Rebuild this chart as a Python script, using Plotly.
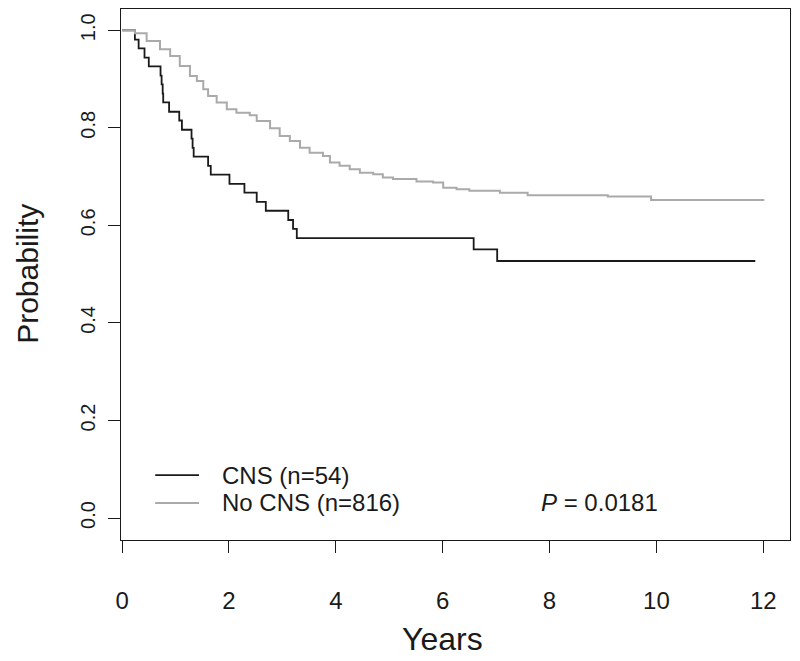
import plotly.graph_objects as go

# Kaplan-Meier estimates (years, survival probability)
cns_time = [0, 0.24, 0.31, 0.42, 0.50, 0.72, 0.74, 0.76, 0.77, 0.88, 1.07, 1.12,
            1.30, 1.32, 1.34, 1.61, 1.66, 2.01, 2.29, 2.52, 2.69, 3.11, 3.20, 3.27,
            6.58, 7.02, 11.85]
cns_surv = [1.0, 0.981, 0.963, 0.944, 0.926, 0.907, 0.889, 0.870, 0.852, 0.833, 0.815, 0.796,
            0.778, 0.759, 0.741, 0.722, 0.704, 0.685, 0.667, 0.648, 0.630, 0.611, 0.593, 0.574,
            0.551, 0.527, 0.527]

nocns_time = [0, 0.24, 0.46, 0.71, 0.90, 1.08, 1.27, 1.40, 1.52, 1.61, 1.77, 1.96, 2.14,
              2.39, 2.52, 2.77, 2.95, 3.14, 3.33, 3.51, 3.76, 3.89, 4.07, 4.26, 4.45,
              4.70, 4.88, 5.07, 5.51, 5.82, 6.01, 6.26, 6.50, 7.07, 7.59, 9.09, 9.90, 12.02]
nocns_surv = [1.0, 0.994, 0.978, 0.961, 0.947, 0.927, 0.906, 0.896, 0.879, 0.865, 0.852, 0.838, 0.831,
              0.826, 0.814, 0.799, 0.783, 0.773, 0.759, 0.749, 0.742, 0.729, 0.722, 0.715, 0.708,
              0.705, 0.698, 0.695, 0.690, 0.688, 0.677, 0.674, 0.671, 0.667, 0.662, 0.659, 0.652, 0.652]

series_names = ["CNS (n=54)", "No CNS (n=816)"]
series_colors = ["#1a1a1a", "#aaaaaa"]
x_ticks = [0, 2, 4, 6, 8, 10, 12]
y_ticks = [0.0, 0.2, 0.4, 0.6, 0.8, 1.0]
p_text = "<i>P</i> = 0.0181"

FONT = "Liberation Sans, Arial, sans-serif"
TXT = "#1a1a1a"

fig = go.Figure()
for t, s, name, col, w in [(cns_time, cns_surv, series_names[0], series_colors[0], 1.8),
                           (nocns_time, nocns_surv, series_names[1], series_colors[1], 2)]:
    fig.add_trace(go.Scatter(x=t, y=s, mode="lines", name=name,
                             line=dict(color=col, width=w, shape="hv")))

axis_common = dict(showgrid=False, zeroline=False, showline=True, linecolor="#1a1a1a",
                   linewidth=1, mirror=True, ticks="outside", ticklen=12,
                   tickcolor="#1a1a1a", tickwidth=1, automargin=False)

# the page body adds an 8px offset, so margins are shifted to compensate
fig.update_layout(
    width=800, height=661,
    margin=dict(l=113, r=18, t=1, b=129),
    plot_bgcolor="white", paper_bgcolor="white",
    showlegend=False,
    font=dict(family=FONT, color=TXT),
    xaxis=dict(range=[-0.02, 12.5], tickvals=x_ticks, ticktext=[str(v) for v in x_ticks],
               tickfont=dict(size=24, family=FONT, color=TXT), ticklabelstandoff=27,
               **axis_common),
    yaxis=dict(range=[-0.045, 1.0436], tickvals=y_ticks,
               ticktext=[f"{v:.1f}" for v in y_ticks], tickangle=-90,
               tickfont=dict(size=20, family=FONT, color=TXT), ticklabelstandoff=5,
               **axis_common),
)

# axis titles
fig.add_annotation(text="Years", x=6, y=-0.186, xref="x", yref="paper", showarrow=False,
                   yanchor="middle", font=dict(size=32, family=FONT, color=TXT))
fig.add_annotation(text="Probability", x=-0.141, y=0.5, xref="paper", yref="y", showarrow=False,
                   textangle=-90, xanchor="center", font=dict(size=30, family=FONT, color=TXT))

# legend (drawn like the base R legend)
leg_y = [0.088, 0.031]
for name, col, ly, w in zip(series_names, series_colors, leg_y, [1.8, 2]):
    fig.add_shape(type="line", x0=0.62, x1=1.44, y0=ly, y1=ly, xref="x", yref="y",
                  line=dict(color=col, width=w))
    fig.add_annotation(text=name, x=1.84, y=ly, xref="x", yref="y", showarrow=False,
                       xanchor="left", font=dict(size=24, family=FONT, color=TXT))

fig.add_annotation(text=p_text, x=7.8, y=leg_y[1], xref="x", yref="y", showarrow=False,
                   xanchor="left", font=dict(size=24, family=FONT, color=TXT))

fig.write_html("out.html")
